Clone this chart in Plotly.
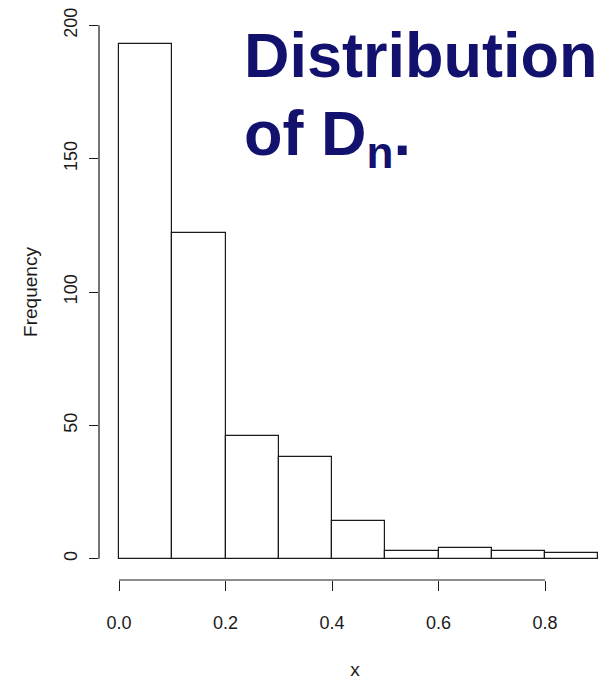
import plotly.graph_objects as go

# Histogram of D_n: bin edges and counts per bin
breaks = [0.0, 0.1, 0.2, 0.3, 0.4, 0.5, 0.6, 0.7, 0.8, 0.9]
counts = [193, 122, 46, 38, 14, 3, 4, 3, 2]

x_ticks = [0.0, 0.2, 0.4, 0.6, 0.8]
x_tick_labels = ["0.0", "0.2", "0.4", "0.6", "0.8"]
y_ticks = [0, 50, 100, 150, 200]
y_tick_labels = ["0", "50", "100", "150", "200"]

centers = [(a + b) / 2 for a, b in zip(breaks[:-1], breaks[1:])]
widths = [b - a for a, b in zip(breaks[:-1], breaks[1:])]

ink = "#1a1a1a"
font = "Liberation Sans, Arial, sans-serif"
navy = "#12126e"

fig = go.Figure()
fig.add_trace(go.Bar(
    x=centers, y=counts, width=widths,
    marker=dict(color="white", line=dict(color=ink, width=1.2)),
    hoverinfo="x+y",
))

# R-style detached axis lines spanning only the tick range
fig.add_shape(type="line", xref="x", yref="paper",
              x0=x_ticks[0], x1=x_ticks[-1], y0=0, y1=0,
              line=dict(color=ink, width=1.2))
fig.add_shape(type="line", xref="paper", yref="y",
              x0=0, x1=0, y0=y_ticks[0], y1=y_ticks[-1],
              line=dict(color=ink, width=1.2))

# Two-line heading, one annotation per line for tight line spacing
title_font = dict(family=font, size=63, color=navy, weight="bold")
fig.add_annotation(
    xref="paper", yref="paper", x=0.279, y=0.976,
    xanchor="left", yanchor="top", align="left",
    text="Distribution", showarrow=False, font=title_font,
)
fig.add_annotation(
    xref="paper", yref="paper", x=0.279, y=0.840,
    xanchor="left", yanchor="top", align="left",
    text="of D<sub>n</sub>.", showarrow=False, font=title_font,
)

fig.update_layout(
    width=611, height=680,
    margin=dict(l=99, r=0, t=4, b=100, autoexpand=False),
    plot_bgcolor="white", paper_bgcolor="white",
    showlegend=False, bargap=0,
    font=dict(family=font, size=18, color=ink),
    xaxis=dict(
        range=[-0.03756, 0.92394], tickvals=x_ticks, ticktext=x_tick_labels,
        ticks="outside", ticklen=10, tickwidth=1.2, tickcolor=ink,
        ticklabelstandoff=16, tickfont=dict(size=18),
        showline=False, showgrid=False, zeroline=False, automargin=False,
        title=dict(text="x", standoff=36, font=dict(size=19)),
    ),
    yaxis=dict(
        range=[-8, 208], tickvals=y_ticks, ticktext=y_tick_labels,
        tickangle=-90, tickfont=dict(size=18),
        ticks="outside", ticklen=9, tickwidth=1.2, tickcolor=ink,
        ticklabelstandoff=5,
        showline=False, showgrid=False, zeroline=False, automargin=False,
        title=dict(text="Frequency", standoff=18, font=dict(size=19)),
    ),
)

fig.write_html("out.html")
